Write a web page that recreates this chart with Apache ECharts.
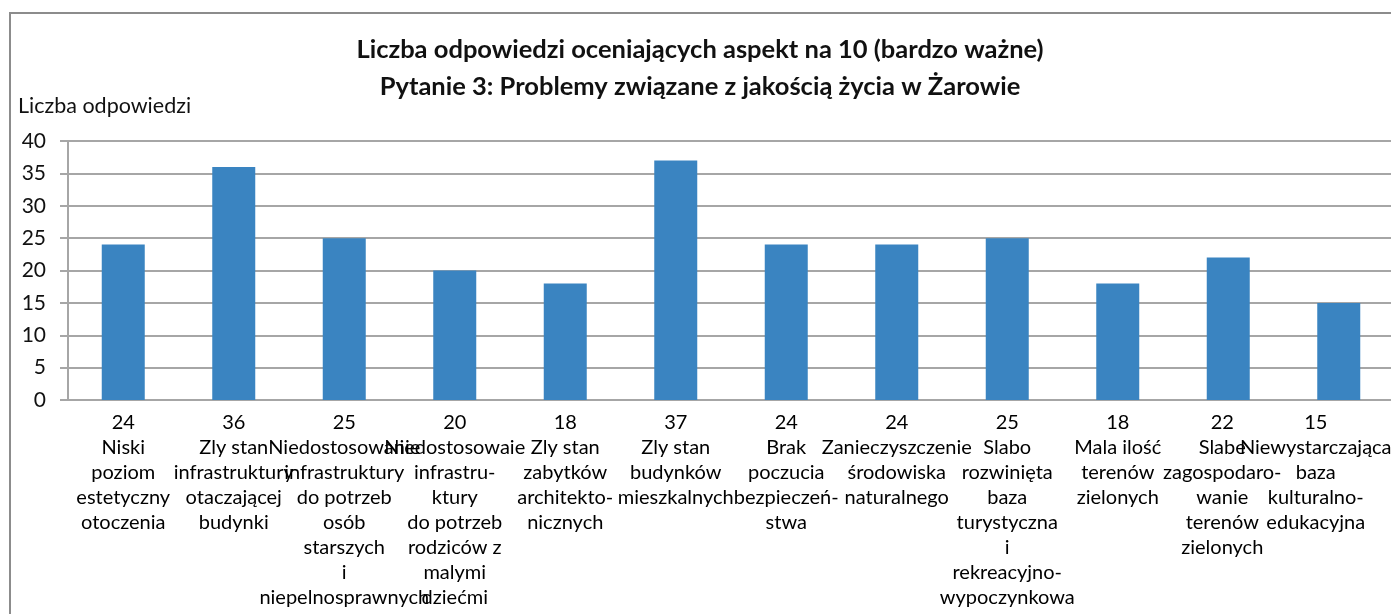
<!DOCTYPE html>
<html>
<head>
<meta charset="utf-8">
<script src="https://cdn.jsdelivr.net/npm/echarts@6/dist/echarts.min.js"></script>
<style>
  html, body { margin: 0; padding: 0; background: #fff; }
  #chart { width: 1391px; height: 614px; }
</style>
</head>
<body>
<div id="chart"></div>
<script>
// chart data
var categories = [
  'Niski\npoziom\nestetyczny\notoczenia',
  'Zly stan\ninfrastruktury\notaczającej\nbudynki',
  'Niedostosowanie\ninfrastruktury\ndo potrzeb\nosób\nstarszych\ni\nniepelnosprawnych',
  'Niedostosowaie\ninfrastru-\nktury\ndo potrzeb\nrodziców z\nmalymi\ndziećmi',
  'Zly stan\nzabytków\narchitekto-\nnicznych',
  'Zly stan\nbudynków\nmieszkalnych',
  'Brak\npoczucia\nbezpieczeń-\nstwa',
  'Zanieczyszczenie\nśrodowiska\nnaturalnego',
  'Slabo\nrozwinięta\nbaza\nturystyczna\ni\nrekreacyjno-\nwypoczynkowa',
  'Mala ilość\nterenów\nzielonych',
  'Slabe\nzagospodaro-\nwanie\nterenów\nzielonych',
  'Niewystarczająca\nbaza\nkulturalno-\nedukacyjna'
];
var answers = [24, 36, 25, 20, 18, 37, 24, 24, 25, 18, 22, 15];
var yTicks = [0, 5, 10, 15, 20, 25, 30, 35, 40];

var titleLines = [
  'Liczba odpowiedzi oceniających aspekt na 10 (bardzo ważne)',
  'Pytanie 3: Problemy związane z jakością życia w Żarowie'
];
var yName = 'Liczba odpowiedzi';

var font = 'Lato, "Open Sans", sans-serif';

// the last labels are pushed left a bit so they stay inside the frame
var labelStyle = { 10: 'k', 11: 'l' };

var chart = echarts.init(document.getElementById('chart'));
var option = {
  animation: false,
  backgroundColor: '#fff',
  title: {
    text: titleLines.join('\n'),
    left: 695,
    top: 26,
    textAlign: 'center',
    textStyle: {
      fontFamily: font,
      fontSize: 25.5,
      fontWeight: 'bold',
      color: '#111',
      lineHeight: 37
    }
  },
  graphic: [
    {
      type: 'rect',
      shape: { x: 10, y: 13, width: 1420, height: 700 },
      style: { fill: 'none', stroke: '#8c8c8c', lineWidth: 2 },
      silent: true
    },
    {
      type: 'text',
      left: 18,
      top: 95,
      style: {
        text: yName,
        font: '21.5px ' + font,
        fill: '#111'
      }
    }
  ],
  grid: {
    left: 68,
    right: -3,
    top: 141,
    bottom: 214,
    containLabel: false,
    outerBoundsMode: 'none'
  },
  xAxis: {
    type: 'category',
    data: categories,
    axisLine: { show: true, lineStyle: { color: '#a6a6a6', width: 2 } },
    axisTick: { show: false },
    axisLabel: {
      interval: 0,
      margin: 10,
      fontFamily: font,
      fontSize: 20,
      color: '#000',
      lineHeight: 25,
      formatter: function (val, idx) {
        var lines = [String(answers[idx])].concat(val.split('\n'));
        var st = labelStyle[idx];
        if (!st) return lines.join('\n');
        return lines.map(function (s) { return '{' + st + '|' + s + '}'; }).join('\n');
      },
      rich: {
        k: { fontFamily: font, fontSize: 20, lineHeight: 25, color: '#000', padding: [0, 12, 0, 0] },
        l: { fontFamily: font, fontSize: 20, lineHeight: 25, color: '#000', padding: [0, 46, 0, 0] }
      }
    }
  },
  yAxis: {
    type: 'value',
    min: yTicks[0],
    max: yTicks[yTicks.length - 1],
    interval: 5,
    axisLine: { show: true, lineStyle: { color: '#a6a6a6', width: 2 } },
    axisTick: { show: true, length: 8, lineStyle: { color: '#a6a6a6', width: 2 } },
    splitLine: { show: true, lineStyle: { color: '#a6a6a6', width: 2 } },
    axisLabel: {
      margin: 22,
      fontFamily: font,
      fontSize: 21,
      color: '#111'
    }
  },
  series: [
    {
      type: 'bar',
      data: answers,
      barWidth: 43,
      itemStyle: { color: '#3a84c1' }
    }
  ]
};
chart.setOption(option);
</script>
</body>
</html>
